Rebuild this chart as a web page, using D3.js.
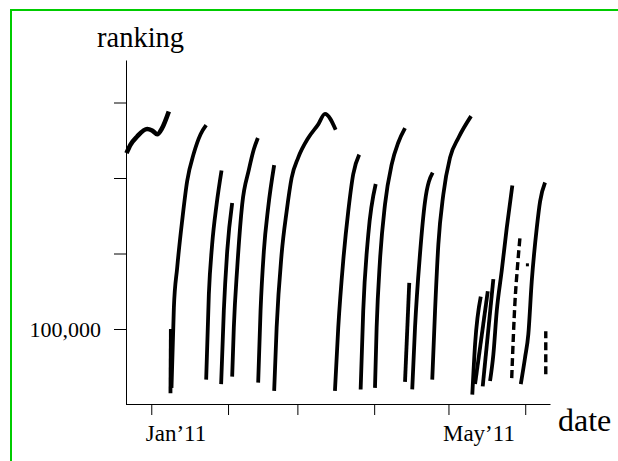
<!DOCTYPE html>
<html>
<head>
<meta charset="utf-8">
<script src="https://cdn.jsdelivr.net/npm/d3@7"></script>
<style>
  html, body { margin: 0; padding: 0; background: #fff; }
  svg { display: block; }
  text { font-family: "Liberation Serif", "Times New Roman", serif; fill: #000; }
</style>
</head>
<body>
<svg id="chart" width="618" height="461"></svg>
<script>
// ---------- data ----------
const yTickValues = [100000, 200000, 300000, 400000];
const yTickLabels = ["100,000", "", "", ""];
const xTickDates = ["2011-01-01", "2011-02-01", "2011-03-01", "2011-04-01", "2011-05-01", "2011-06-01"];
const xTickLabels = ["Jan\u201911", "", "", "", "May\u201911", ""];
const xDomain = ["2010-12-22 00:00", "2011-06-11 00:00"];
const yDomain = [0, 456300];

// solid ranking segments: [date, rank]
const segA = [["2010-12-22 00:00",333000],["2010-12-23 14:00",344000],["2010-12-26 07:00",355000],["2010-12-30 08:00",365000],["2011-01-01 08:00",363000],["2011-01-03 09:00",358000],["2011-01-05 09:00",366000],["2011-01-08 02:00",388000]];
const segB = [["2011-01-09 04:00",22000],["2011-01-10 03:00",128000],["2011-01-11 11:00",181000],["2011-01-13 11:00",243000],["2011-01-15 12:00",296000],["2011-01-18 05:00",333000],["2011-01-20 22:00",358000],["2011-01-23 04:00",370000]];
const segBx = [["2011-01-08 18:00",15000],["2011-01-08 22:00",100000]];
const segC = [["2011-01-23 04:00",33000],["2011-01-24 06:00",146000],["2011-01-25 14:00",212000],["2011-01-27 09:00",265000],["2011-01-29 09:00",310000]];
const segD = [["2011-01-29 05:00",27000],["2011-01-30 07:00",124000],["2011-01-31 16:00",203000],["2011-02-02 16:00",267000]];
const segE = [["2011-02-02 16:00",37000],["2011-02-03 08:00",102000],["2011-02-04 17:00",181000],["2011-02-06 17:00",265000],["2011-02-09 10:00",311000],["2011-02-11 10:00",338000],["2011-02-13 01:00",353000]];
const segF = [["2011-02-13 04:00",29000],["2011-02-14 03:00",124000],["2011-02-15 11:00",203000],["2011-02-17 05:00",261000],["2011-02-19 15:00",317000]];
const segG = [["2011-02-19 15:00",18000],["2011-02-20 15:00",102000],["2011-02-22 15:00",199000],["2011-02-24 16:00",256000],["2011-02-26 16:00",300000],["2011-03-01 08:00",327000],["2011-03-05 09:00",353000],["2011-03-09 10:00",371000],["2011-03-12 03:00",385000],["2011-03-16 11:00",364000]];
const segH = [["2011-03-16 04:00",18000],["2011-03-17 12:00",102000],["2011-03-19 12:00",190000],["2011-03-21 13:00",256000],["2011-03-23 13:00",305000],["2011-03-25 23:00",331000]];
const segI = [["2011-03-26 13:00",20000],["2011-03-27 14:00",124000],["2011-03-29 15:00",225000],["2011-04-01 15:00",292000]];
const segJ = [["2011-04-01 08:00",22000],["2011-04-02 00:00",102000],["2011-04-03 08:00",190000],["2011-04-05 09:00",265000],["2011-04-08 02:00",318000],["2011-04-10 18:00",347000],["2011-04-13 11:00",366000]];
const segK = [["2011-04-13 11:00",30000],["2011-04-15 04:00",161000]];
const segL = [["2011-04-16 09:00",20000],["2011-04-17 12:00",102000],["2011-04-19 12:00",199000],["2011-04-21 13:00",269000],["2011-04-24 15:00",307000]];
const segM = [["2011-04-24 11:00",33000],["2011-04-25 14:00",124000],["2011-04-26 22:00",212000],["2011-04-28 22:00",278000],["2011-05-01 15:00",327000],["2011-05-05 00:00",353000],["2011-05-10 03:00",382000]];
const segN1 = [["2011-05-10 15:00",13000],["2011-05-11 18:00",80000],["2011-05-14 01:00",143000]];
const segN2 = [["2011-05-11 18:00",27000],["2011-05-16 21:00",150000]];
const segN3 = [["2011-05-14 20:00",24000],["2011-05-19 03:00",166000]];
const segO = [["2011-05-17 19:00",31000],["2011-05-19 03:00",66000],["2011-05-20 12:00",124000],["2011-05-22 12:00",177000],["2011-05-24 13:00",234000],["2011-05-26 19:00",290000]];
const segQ = [["2011-05-30 05:00",27000],["2011-05-31 22:00",62000],["2011-06-02 06:00",93000],["2011-06-03 15:00",163000],["2011-06-05 16:00",234000],["2011-06-07 00:00",269000],["2011-06-09 00:00",294000]];
// sparse (dashed-looking) segments
const segP = [["2011-05-26 13:00",35000],["2011-05-27 21:00",137000],["2011-05-28 20:00",181000],["2011-05-29 22:00",223000]];
const segR = [["2011-06-09 07:00",40000],["2011-06-09 07:00",97000]];
const loosePoints = [["2011-06-01 21:00",185000]];

const solidSegments = [segA, segB, segBx, segC, segD, segE, segF, segG, segH, segI, segJ, segK, segL, segM, segN1, segN2, segN3, segO, segQ];
const sparseSegments = [segP, segR];

// ---------- drawing ----------
const parseT = d3.timeParse("%Y-%m-%d %H:%M");
const parseD = d3.timeParse("%Y-%m-%d");
const svg = d3.select("#chart");

// green frame
svg.append("rect")
  .attr("x", 11).attr("y", 10)
  .attr("width", 640).attr("height", 480)
  .attr("fill", "none").attr("stroke", "#00cc00").attr("stroke-width", 2);

const x = d3.scaleTime().domain(xDomain.map(parseT)).range([126.5, 550]);
const y = d3.scaleLinear().domain(yDomain).range([404.5, 60]);

const line = d3.line()
  .x(d => x(parseT(d[0])))
  .y(d => y(d[1]))
  .curve(d3.curveMonotoneX);

const gData = svg.append("g");
gData.selectAll("path.solid").data(solidSegments).join("path")
  .attr("class", "solid")
  .attr("d", line)
  .attr("fill", "none").attr("stroke", "#000")
  .attr("stroke-width", (d, i) => i === 0 ? 4.6 : 3.8)
  .attr("stroke-linecap", "butt").attr("stroke-linejoin", "round");

gData.selectAll("path.sparse").data(sparseSegments).join("path")
  .attr("class", "sparse")
  .attr("d", line)
  .attr("fill", "none").attr("stroke", "#000")
  .attr("stroke-width", 3.4).attr("stroke-dasharray", "8,4");

gData.selectAll("rect.pt").data(loosePoints).join("rect")
  .attr("class", "pt")
  .attr("x", d => x(parseT(d[0])) - 1.5).attr("y", d => y(d[1]) - 1.5)
  .attr("width", 3).attr("height", 3).attr("fill", "#000");

// y axis
const yAxis = d3.axisLeft(y)
  .tickValues(yTickValues)
  .tickSize(12).tickSizeOuter(0)
  .tickPadding(13)
  .tickFormat((d, i) => yTickLabels[i]);
const gy = svg.append("g").attr("transform", "translate(126,0)").call(yAxis);
gy.selectAll("text").style("font-size", "22px").attr("dy", "0.33em");

// x axis
const xAxis = d3.axisBottom(x)
  .tickValues(xTickDates.map(parseD))
  .tickSize(11).tickSizeOuter(0)
  .tickFormat((d, i) => xTickLabels[i]);
const gx = svg.append("g").attr("transform", "translate(0,404)").call(xAxis);
gx.selectAll("text")
  .style("font-size", "23px")
  .attr("text-anchor", "start")
  .attr("x", -6)
  .attr("y", 37).attr("dy", 0);

svg.selectAll(".domain, .tick line").attr("stroke", "#000");

// axis titles
svg.append("text").attr("x", 97).attr("y", 47).style("font-size", "28.5px").text("ranking");
svg.append("text").attr("x", 558).attr("y", 431).style("font-size", "32px").text("date");
</script>
</body>
</html>
